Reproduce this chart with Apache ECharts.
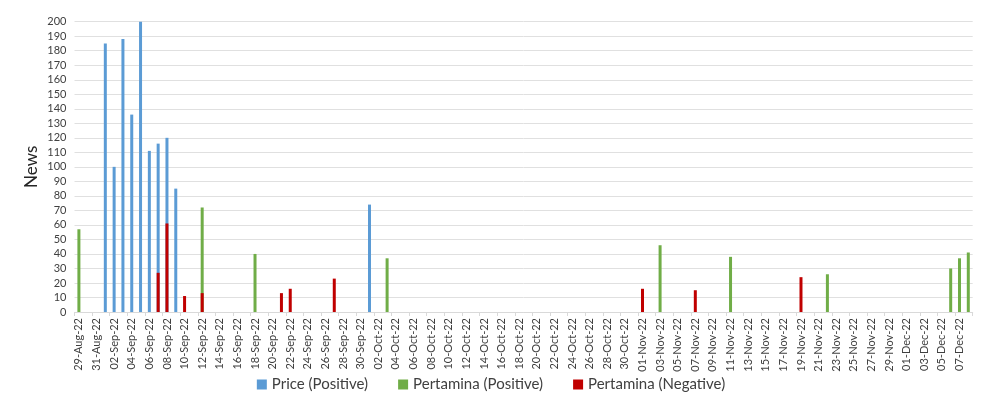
<!DOCTYPE html>
<html>
<head>
<meta charset="utf-8">
<script src="https://cdn.jsdelivr.net/npm/echarts@6/dist/echarts.min.js"></script>
<style>
html,body{margin:0;padding:0;background:#fff;}
#chart{width:982px;height:404px;}
</style>
</head>
<body>
<div id="chart"></div>
<script>
const categories = [
'29-Aug-22','30-Aug-22','31-Aug-22',
'01-Sep-22','02-Sep-22','03-Sep-22','04-Sep-22','05-Sep-22','06-Sep-22','07-Sep-22','08-Sep-22','09-Sep-22','10-Sep-22',
'11-Sep-22','12-Sep-22','13-Sep-22','14-Sep-22','15-Sep-22','16-Sep-22','17-Sep-22','18-Sep-22','19-Sep-22','20-Sep-22',
'21-Sep-22','22-Sep-22','23-Sep-22','24-Sep-22','25-Sep-22','26-Sep-22','27-Sep-22','28-Sep-22','29-Sep-22','30-Sep-22',
'01-Oct-22','02-Oct-22','03-Oct-22','04-Oct-22','05-Oct-22','06-Oct-22','07-Oct-22','08-Oct-22','09-Oct-22','10-Oct-22',
'11-Oct-22','12-Oct-22','13-Oct-22','14-Oct-22','15-Oct-22','16-Oct-22','17-Oct-22','18-Oct-22','19-Oct-22','20-Oct-22',
'21-Oct-22','22-Oct-22','23-Oct-22','24-Oct-22','25-Oct-22','26-Oct-22','27-Oct-22','28-Oct-22','29-Oct-22','30-Oct-22','31-Oct-22',
'01-Nov-22','02-Nov-22','03-Nov-22','04-Nov-22','05-Nov-22','06-Nov-22','07-Nov-22','08-Nov-22','09-Nov-22','10-Nov-22',
'11-Nov-22','12-Nov-22','13-Nov-22','14-Nov-22','15-Nov-22','16-Nov-22','17-Nov-22','18-Nov-22','19-Nov-22','20-Nov-22',
'21-Nov-22','22-Nov-22','23-Nov-22','24-Nov-22','25-Nov-22','26-Nov-22','27-Nov-22','28-Nov-22','29-Nov-22','30-Nov-22',
'01-Dec-22','02-Dec-22','03-Dec-22','04-Dec-22','05-Dec-22','06-Dec-22','07-Dec-22','08-Dec-22'
];

const pricePositive = [
  ['01-Sep-22',185],['02-Sep-22',100],['03-Sep-22',188],['04-Sep-22',136],['05-Sep-22',200],
  ['06-Sep-22',111],['07-Sep-22',116],['08-Sep-22',120],['09-Sep-22',85],['01-Oct-22',74]
];
const pertaminaPositive = [
  ['29-Aug-22',57],['12-Sep-22',72],['18-Sep-22',40],['03-Oct-22',37],['03-Nov-22',46],
  ['11-Nov-22',38],['22-Nov-22',26],['06-Dec-22',30],['07-Dec-22',37],['08-Dec-22',41]
];
const pertaminaNegative = [
  ['07-Sep-22',27],['08-Sep-22',61],['10-Sep-22',11],['12-Sep-22',13],['21-Sep-22',13],
  ['22-Sep-22',16],['27-Sep-22',23],['01-Nov-22',16],['07-Nov-22',15],['19-Nov-22',24]
];
const seriesNames = ['Price (Positive)','Pertamina (Positive)','Pertamina (Negative)'];
const yTicks = {min:0, max:200, interval:10};

const font = 'Lato, "Open Sans", sans-serif';
const chart = echarts.init(document.getElementById('chart'));
const mk = (name, data, color) => ({
  name, type:'bar', data, barWidth:3, barGap:'-100%',
  itemStyle:{color}, emphasis:{disabled:true}
});
chart.setOption({
  animation:false,
  textStyle:{fontFamily:font},
  grid:{left:74.5, right:9.3, top:21.7, bottom:92},
  legend:{
    bottom:7, left:'center', itemWidth:10, itemHeight:10, itemGap:30,
    icon:'rect',
    textStyle:{fontSize:15, color:'#404040', fontFamily:font},
    data:seriesNames
  },
  xAxis:{
    type:'category', data:categories,
    axisLine:{lineStyle:{color:'#d9d9d9'}},
    axisTick:{show:true, interval:1, length:4, lineStyle:{color:'#d9d9d9'}},
    axisLabel:{interval:1, rotate:90, fontSize:11, color:'#404040', margin:6, fontFamily:font}
  },
  yAxis:{
    type:'value', min:yTicks.min, max:yTicks.max, interval:yTicks.interval,
    name:'News', nameLocation:'middle', nameGap:34, nameRotate:90, nameMoveOverlap:false,
    nameTextStyle:{fontSize:17, color:'#262626', fontFamily:font},
    axisLine:{show:false}, axisTick:{show:false},
    axisLabel:{fontSize:11, color:'#404040', margin:8, fontFamily:font},
    splitLine:{lineStyle:{color:'#e0e0e0'}}
  },
  series:[
    mk(seriesNames[0], pricePositive, '#5B9BD5'),
    mk(seriesNames[1], pertaminaPositive, '#70AD47'),
    mk(seriesNames[2], pertaminaNegative, '#C00000')
  ]
});
</script>
</body>
</html>
